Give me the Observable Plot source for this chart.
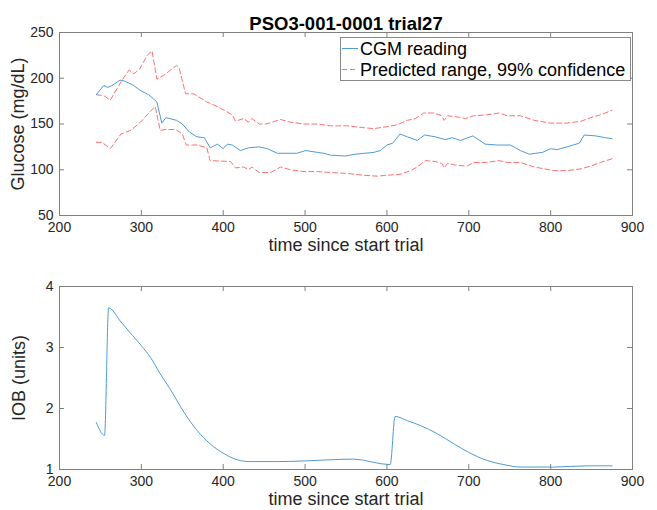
<!DOCTYPE html>
<html>
<head>
<meta charset="utf-8">
<script src="https://cdn.jsdelivr.net/npm/d3@7"></script>
<script src="https://cdn.jsdelivr.net/npm/@observablehq/plot@0.6"></script>
<style>
  html, body { margin: 0; padding: 0; background: #fff; }
  #wrap { position: relative; width: 657px; height: 510px; overflow: hidden; font-family: "Liberation Sans", Arial, Helvetica, sans-serif; }
  #wrap svg { display: block; }
  #top, #bottom { position: absolute; left: 0; }
  #top { top: 0; }
  #bottom { top: 258px; }
  #legend { position: absolute; left: 340px; top: 37px; }
</style>
</head>
<body>
<div id="wrap">
  <div id="top"></div>
  <div id="bottom"></div>
  <svg id="legend" width="292" height="45">
    <rect x="0.5" y="0.5" width="290" height="43" fill="#fff" stroke="#8a8a8a" stroke-width="1"></rect>
    <line x1="2" x2="18" y1="11.5" y2="11.5" stroke="#4f9bd6" stroke-width="1"></line>
    <line x1="2" x2="18" y1="32.5" y2="32.5" stroke="#ff6f6f" stroke-width="1" stroke-dasharray="5,3"></line>
    <text x="20" y="11.5" dy="0.34em" font-size="18" fill="#000" font-family="Liberation Sans, Arial, Helvetica, sans-serif">CGM reading</text>
    <text x="20" y="32.5" dy="0.34em" font-size="18" fill="#000" font-family="Liberation Sans, Arial, Helvetica, sans-serif">Predicted range, 99% confidence</text>
  </svg>
</div>
<script>
// ---- data ----
const titleText = "PSO3-001-0001 trial27";
const xLabel = "time since start trial";
const glucoseLabel = "Glucose (mg/dL)";
const iobLabel = "IOB (units)";

const xTicks = [200, 300, 400, 500, 600, 700, 800, 900];
const glucoseTicks = [50, 100, 150, 200, 250];
const iobTicks = [1, 2, 3, 4];

const cgmTime  = [245, 254, 259, 264, 274, 279, 289, 300, 309, 319, 325, 330, 343, 350, 359, 368, 377, 384, 393, 400, 405, 411, 421, 431, 444, 454, 466, 490, 501, 515, 523, 531, 549, 561, 584, 592, 600, 607, 616, 625, 637, 646, 659, 671, 680, 690, 705, 720, 735, 751, 763, 774, 790, 800, 808, 820, 835, 841, 855, 867, 875];
const cgmValue = [182, 192, 190, 192, 198, 197, 193, 186, 182, 174, 151, 157, 154, 150, 141, 136, 135, 124, 128, 123, 128, 127, 121, 124, 125, 123, 118, 118, 121, 119, 118, 116, 115, 117, 119, 121, 127, 129, 139, 136, 132, 138, 136, 133, 135, 132, 137, 128, 127, 127, 121, 117, 119, 123, 122, 125, 129, 138, 137, 135, 134];

const upperTime  = [245, 254, 262, 275, 285, 291, 298, 307, 313, 319, 327, 343, 346, 354, 364, 380, 393, 411, 415, 425, 431, 435, 444, 452, 460, 470, 482, 499, 515, 531, 551, 571, 584, 600, 612, 625, 635, 645, 657, 667, 670, 674, 684, 696, 706, 722, 737, 747, 763, 780, 800, 820, 837, 849, 861, 875];
const upperValue = [182, 181, 176, 196, 209, 205, 210, 225, 230, 199, 203, 214, 212, 183, 183, 174, 169, 160, 153, 156, 152, 156, 150, 150, 152, 155, 152, 150, 150, 148, 148, 146, 145, 147, 149, 154, 156, 162, 162, 159, 154, 159, 158, 156, 159, 160, 162, 159, 159, 154, 151, 151, 153, 157, 160, 165];

const lowerTime  = [245, 252, 262, 275, 287, 299, 311, 317, 323, 330, 342, 350, 355, 368, 380, 384, 409, 415, 425, 431, 435, 444, 458, 470, 482, 499, 515, 531, 551, 571, 588, 600, 616, 629, 637, 647, 659, 667, 670, 674, 684, 698, 706, 722, 737, 747, 763, 780, 804, 820, 837, 849, 861, 875];
const lowerValue = [130, 130, 123, 139, 143, 152, 164, 169, 143, 144, 144, 139, 127, 127, 124, 110, 109, 102, 103, 100, 103, 97, 97, 103, 100, 98, 98, 97, 96, 94, 93, 94, 95, 99, 103, 110, 109, 107, 102, 107, 105, 104, 108, 108, 110, 108, 108, 103, 99, 99, 101, 104, 108, 112];

const iobTime  = [245, 255, 260, 275, 289, 300, 311, 323, 336, 352, 368, 384, 401, 417, 433, 466, 499, 531, 559, 604, 610, 625, 641, 661, 682, 700, 722, 743, 763, 804, 845, 875];
const iobValue = [1.77, 1.56, 3.65, 3.42, 3.20, 3.03, 2.84, 2.57, 2.30, 1.94, 1.64, 1.42, 1.26, 1.16, 1.13, 1.13, 1.14, 1.16, 1.17, 1.08, 1.87, 1.80, 1.72, 1.59, 1.42, 1.28, 1.15, 1.08, 1.04, 1.04, 1.06, 1.06];

// ---- styles ----
const FONT = "Liberation Sans, Arial, Helvetica, sans-serif";
const AXIS = "#808080";
const TEXT = "#262626";
const BLUE = "#4f9bd6";
const RED = "#ff6f6f";
const W = 657, ML = 59, MR = 25;
const innerW = W - ML - MR;

function frameMarks(yTicks, innerH) {
  return [
    Plot.frame({stroke: AXIS, strokeWidth: 1}),
    Plot.tickX(xTicks, {x: d => d, stroke: AXIS, insetTop: innerH - 5}),
    Plot.tickX(xTicks, {x: d => d, stroke: AXIS, insetBottom: innerH - 5}),
    Plot.tickY(yTicks, {y: d => d, stroke: AXIS, insetRight: innerW - 5}),
    Plot.tickY(yTicks, {y: d => d, stroke: AXIS, insetLeft: innerW - 5}),
    Plot.axisX({ticks: xTicks, tickSize: 0, tickPadding: 7, label: null, fontSize: 14, fill: TEXT, tickFormat: d => String(d)}),
    Plot.axisY({ticks: yTicks, tickSize: 0, tickPadding: 6, label: null, fontSize: 14, fill: TEXT, tickFormat: d => String(d)}),
    Plot.text([xLabel], {frameAnchor: "bottom", dy: 35.5, fontSize: 18, fill: TEXT, textAnchor: "middle", text: d => d})
  ];
}

// top plot
const topH = 258, topMT = 32, topMB = 43;
const topInner = topH - topMT - topMB;
const topPlot = Plot.plot({
  width: W, height: topH,
  marginLeft: ML, marginRight: MR, marginTop: topMT, marginBottom: topMB,
  style: {fontFamily: FONT, background: "transparent", overflow: "visible", color: TEXT},
  x: {domain: [200, 900]},
  y: {domain: [50, 250]},
  marks: [
    Plot.line(upperValue, {x: upperTime, y: upperValue, stroke: RED, strokeWidth: 1, strokeDasharray: "5,3"}),
    Plot.line(lowerValue, {x: lowerTime, y: lowerValue, stroke: RED, strokeWidth: 1, strokeDasharray: "5,3"}),
    Plot.line(cgmValue, {x: cgmTime, y: cgmValue, stroke: BLUE, strokeWidth: 1}),
    ...frameMarks(glucoseTicks, topInner),
    Plot.text([glucoseLabel], {frameAnchor: "left", dx: -41, rotate: -90, textAnchor: "middle", fontSize: 18, fill: TEXT, text: d => d}),
    Plot.text([titleText], {frameAnchor: "top", dy: -16, textAnchor: "middle", fontSize: 18.5, fontWeight: "bold", fill: "#000", text: d => d})
  ]
});
document.getElementById("top").appendChild(topPlot);

// bottom plot
const botH = 252, botMT = 28, botMB = 41;
const botInner = botH - botMT - botMB;
const botPlot = Plot.plot({
  width: W, height: botH,
  marginLeft: ML, marginRight: MR, marginTop: botMT, marginBottom: botMB,
  style: {fontFamily: FONT, background: "transparent", overflow: "visible", color: TEXT},
  x: {domain: [200, 900]},
  y: {domain: [1, 4]},
  marks: [
    Plot.line(iobValue, {x: iobTime, y: iobValue, stroke: BLUE, strokeWidth: 1, curve: "monotone-x"}),
    ...frameMarks(iobTicks, botInner),
    Plot.text([iobLabel], {frameAnchor: "left", dx: -40, rotate: -90, textAnchor: "middle", fontSize: 18, fill: TEXT, text: d => d})
  ]
});
document.getElementById("bottom").appendChild(botPlot);
</script>
</body>
</html>
